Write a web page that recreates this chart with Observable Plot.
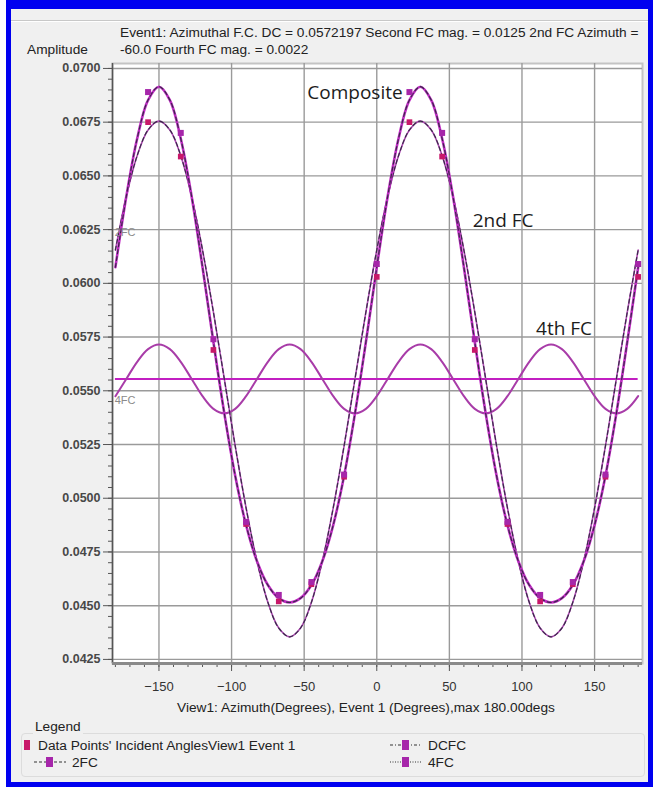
<!DOCTYPE html>
<html><head><meta charset="utf-8">
<script src="https://cdn.jsdelivr.net/npm/d3@7"></script>
<script src="https://cdn.jsdelivr.net/npm/@observablehq/plot@0.6"></script>
<style>
html,body{margin:0;padding:0;width:656px;height:788px;overflow:hidden;background:#fff;font-family:"Liberation Sans",Arial,sans-serif;color:#222;}
.abs{position:absolute;white-space:nowrap;}
#box{position:absolute;left:6px;top:0;width:637px;height:773px;border:5px solid #0000f0;border-top-width:9px;background:#f0f0f0;}
#sep{position:absolute;left:11px;top:20px;width:637px;height:0;border-top:1px solid #c8c8c8;border-bottom:1px solid #fff;}
#chart{position:absolute;left:0;top:0;}
#legbox{position:absolute;left:21px;top:733px;width:622px;height:42px;border:1px solid #dcdcdc;border-radius:4px;}
.t{font-size:13.7px;line-height:16px;}
</style></head>
<body>
<div id="box"></div>
<div id="sep"></div>
<div id="chart"></div>
<div class="abs t" style="left:120px;top:25px;">Event1: Azimuthal F.C. DC = 0.0572197 Second FC mag. = 0.0125 2nd FC Azimuth =</div>
<div class="abs t" style="left:120px;top:42px;">-60.0 Fourth FC mag. = 0.0022</div>
<div class="abs t" style="left:27px;top:42px;">Amplitude</div>
<div class="abs t" style="left:0;width:732px;text-align:center;top:700px;">View1: Azimuth(Degrees), Event 1 (Degrees),max 180.00degs</div>
<div id="legbox"></div>
<div class="abs t" style="left:33px;top:719px;background:#f0f0f0;padding:0 2px;">Legend</div>
<div id="legend"></div>
<script>
// ---- data ----
const angles = [-180,-172.5,-165,-157.5,-150,-142.5,-135,-127.5,-120,-112.5,-105,-97.5,-90,-82.5,-75,-67.5,-60,-52.5,-45,-37.5,-30,-22.5,-15,-7.5,0,7.5,15,22.5,30,37.5,45,52.5,60,67.5,75,82.5,90,97.5,105,112.5,120,127.5,135,142.5,150,157.5,165,172.5,180];
const compositeFC = [0.06075,0.06404,0.06674,0.06853,0.06915,0.06853,0.06674,0.06404,0.06075,0.05727,0.05395,0.05105,0.04875,0.04707,0.04596,0.04535,0.04515,0.04535,0.04596,0.04707,0.04875,0.05105,0.05395,0.05727,0.06075,0.06404,0.06674,0.06853,0.06915,0.06853,0.06674,0.06404,0.06075,0.05727,0.05395,0.05105,0.04875,0.04707,0.04596,0.04535,0.04515,0.04535,0.04596,0.04707,0.04875,0.05105,0.05395,0.05727,0.06075];
const secondFC = [0.06155,0.06404,0.06594,0.06714,0.06755,0.06714,0.06594,0.06404,0.06155,0.05866,0.05555,0.05244,0.04955,0.04707,0.04516,0.04396,0.04355,0.04396,0.04516,0.04707,0.04955,0.05244,0.05555,0.05866,0.06155,0.06404,0.06594,0.06714,0.06755,0.06714,0.06594,0.06404,0.06155,0.05866,0.05555,0.05244,0.04955,0.04707,0.04516,0.04396,0.04355,0.04396,0.04516,0.04707,0.04955,0.05244,0.05555,0.05866,0.06155];
const fourthFC = [0.05475,0.05555,0.05635,0.05694,0.05715,0.05694,0.05635,0.05555,0.05475,0.05416,0.05395,0.05416,0.05475,0.05555,0.05635,0.05694,0.05715,0.05694,0.05635,0.05555,0.05475,0.05416,0.05395,0.05416,0.05475,0.05555,0.05635,0.05694,0.05715,0.05694,0.05635,0.05555,0.05475,0.05416,0.05395,0.05416,0.05475,0.05555,0.05635,0.05694,0.05715,0.05694,0.05635,0.05555,0.05475,0.05416,0.05395,0.05416,0.05475];
const dcLevel = 0.05555;
const pointAngles = [-157.5,-135,-112.5,-90,-67.5,-45,-22.5,0,22.5,45,67.5,90,112.5,135,157.5,180];
const measuredPts = [0.0675,0.0659,0.0569,0.0488,0.0452,0.0460,0.0510,0.0603,0.0675,0.0659,0.0569,0.0488,0.0452,0.0460,0.0510,0.0603];
const fittedPts   = [0.0689,0.0670,0.0574,0.0489,0.0455,0.0461,0.0511,0.0609,0.0689,0.0670,0.0574,0.0489,0.0455,0.0461,0.0511,0.0609];
const yTicks = [0.0425,0.0450,0.0475,0.0500,0.0525,0.0550,0.0575,0.0600,0.0625,0.0650,0.0675,0.0700];
const xTicks = [-150,-100,-50,0,50,100,150];
const annotations = [
  {a:-15, v:0.06885, label:"Composite"},
  {a:87, v:0.0629, label:"2nd FC"},
  {a:129, v:0.0579, label:"4th FC"}
];
const sideLabels = [{a:-180.5, v:0.06235, label:"2FC"}, {a:-180.5, v:0.05455, label:"4FC"}];

// ---- build ----
const toRows = ys => angles.map((a, i) => ({a, v: ys[i]}));
const comp = toRows(compositeFC), sec = toRows(secondFC), four = toRows(fourthFC);
const meas = pointAngles.map((a, i) => ({a, v: measuredPts[i]}));
const fit = pointAngles.map((a, i) => ({a, v: fittedPts[i]}));
const minorX = d3.range(-180, 181, 10);
const minorY = d3.range(0, 56).map(i => 0.0425 + i * 0.0005);
const xDomain = [-182, 183], yDomain = [0.04231, 0.07023];
const dark = "#3a2a4a";

const chart = Plot.plot({
  width: 656, height: 788,
  marginLeft: 112, marginRight: 14, marginTop: 63, marginBottom: 125,
  x: {domain: xDomain},
  y: {domain: yDomain},
  style: {background: "transparent", fontFamily: "Liberation Sans, Arial, sans-serif", overflow: "visible"},
  marks: [
    Plot.frame({fill: "white", stroke: "#c4c4c4", strokeWidth: 2}),
    Plot.gridX(xTicks, {stroke: "#9a9a9a", strokeOpacity: 1, strokeWidth: 1.4}),
    Plot.gridY(yTicks, {stroke: "#9a9a9a", strokeOpacity: 1, strokeWidth: 1.4}),
    Plot.axisY({ticks: minorY, tickSize: 4, tickFormat: () => "", label: null, stroke: "#555"}),
    Plot.axisY({ticks: yTicks, tickSize: 9, tickPadding: 3, tickFormat: d3.format(".4f"), label: null, fontSize: 12.5, fontWeight: "bold", fill: "#484848", stroke: "#555"}),
    Plot.axisX({ticks: minorX, tickSize: 4, tickFormat: () => "", label: null, stroke: "#555"}),
    Plot.axisX({ticks: xTicks, tickSize: 8, tickPadding: 10, label: null, fontSize: 13, fill: "#333", stroke: "#555"}),
    Plot.ruleX([xDomain[0]], {stroke: "#555", strokeWidth: 1.5}),
    Plot.ruleY([yDomain[0]], {stroke: "#8a8a8a", strokeWidth: 3}),
    Plot.ruleY([dcLevel], {x1: -180, x2: 180, stroke: "#c21fc2", strokeWidth: 2}),
    Plot.line(four, {x: "a", y: "v", stroke: "#a83ca8", strokeWidth: 2, curve: "catmull-rom"}),
    Plot.line(sec, {x: "a", y: "v", stroke: "#b04cb4", strokeWidth: 1.6, curve: "catmull-rom"}),
    Plot.line(sec, {x: "a", y: "v", stroke: dark, strokeWidth: 1.2, strokeDasharray: "4,3", curve: "catmull-rom"}),
    Plot.line(comp, {x: "a", y: "v", stroke: "#c02cc4", strokeWidth: 2.6, curve: "catmull-rom"}),
    Plot.line(comp, {x: "a", y: "v", stroke: dark, strokeWidth: 1.2, strokeDasharray: "4,3", curve: "catmull-rom"}),
    Plot.dot(meas, {x: "a", y: "v", symbol: "square", r: 3.2, fill: "#c8186a"}),
    Plot.dot(fit, {x: "a", y: "v", symbol: "square", r: 3.4, fill: "#a626aa"}),
    Plot.text(annotations, {x: "a", y: "v", text: "label", fontSize: 19, fontFamily: "Open Sans", fill: "#1c1c1c"}),
    Plot.text(sideLabels, {x: "a", y: "v", text: "label", fontSize: 11, textAnchor: "start", fill: "#8a8a8a"})
  ]
});
document.getElementById("chart").appendChild(chart);

// ---- legend ----
const legendItems = [
  {x: 24, y: 745, kind: "data", label: "Data Points' Incident AnglesView1 Event 1"},
  {x: 34, y: 762, kind: "dash", label: "2FC"},
  {x: 390, y: 745, kind: "dashdot", label: "DCFC"},
  {x: 390, y: 762, kind: "dot", label: "4FC"}
];
const leg = d3.select("#legend").append("svg").attr("width", 656).attr("height", 788)
  .style("position", "absolute").style("left", 0).style("top", 0);
for (const it of legendItems) {
  if (it.kind === "data") {
    leg.append("rect").attr("x", it.x).attr("y", it.y - 5).attr("width", 6).attr("height", 10).attr("fill", "#c8186a");
    leg.append("text").attr("x", it.x + 14).attr("y", it.y + 4.5).attr("font-size", 13.7).attr("fill", "#222").text(it.label);
  } else {
    const dash = it.kind === "dash" ? "3,2" : it.kind === "dashdot" ? "3,2,1,2" : "1,1.5";
    leg.append("line").attr("x1", it.x).attr("x2", it.x + 32).attr("y1", it.y).attr("y2", it.y)
      .attr("stroke", "#333").attr("stroke-width", 1).attr("stroke-dasharray", dash);
    leg.append("rect").attr("x", it.x + 12).attr("y", it.y - 5).attr("width", 7).attr("height", 10).attr("fill", "#a626aa");
    leg.append("text").attr("x", it.x + 38).attr("y", it.y + 4.5).attr("font-size", 13.7).attr("fill", "#222").text(it.label);
  }
}
</script>
</body></html>
